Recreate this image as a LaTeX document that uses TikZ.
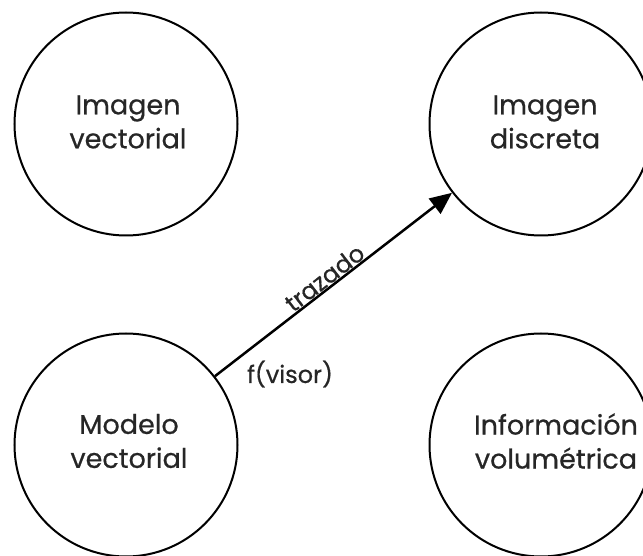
\documentclass[tikz,border=0pt]{standalone}
\usepackage{fontspec}
\setmainfont{Poppins}[FakeBold=0.6]
\usetikzlibrary{arrows.meta}
\begin{document}
\begin{tikzpicture}[x=1pt,y=-1pt,
  circ/.style={circle, draw=black, line width=2pt, minimum size=223pt, inner sep=0pt},
  lbl/.style={align=center, font=\fontsize{27}{34}\selectfont, text=black!85},
  small/.style={font=\fontsize{24}{28}\selectfont, text=black!85},
  conn/.style={line width=2.5pt, -{Triangle[length=22pt,width=19pt]}}]
\useasboundingbox (0,0) rectangle (643,556);
\node[circ] (iv) at (126,124) {};
\node[circ] (id) at (541,124) {};
\node[circ] (mv) at (126,445) {};
\node[circ] (inf) at (541,445) {};
\node[lbl] (tiv) at (128,122) {Imagen\\vectorial};
\node[lbl] (tid) at (545,122) {Imagen\\discreta};
\node[lbl] (tmv) at (129,441) {Modelo\\vectorial};
\node[lbl] (tinf) at (556,441) {Información\\volumétrica};
\draw[conn] (mv) -- (id) node[small, pos=0.49, sloped, anchor=base, yshift=2pt, inner sep=0pt] (tr) {trazado};
\node[small] (fv) at (290,374) {f(visor)};
\end{tikzpicture}
\end{document}
